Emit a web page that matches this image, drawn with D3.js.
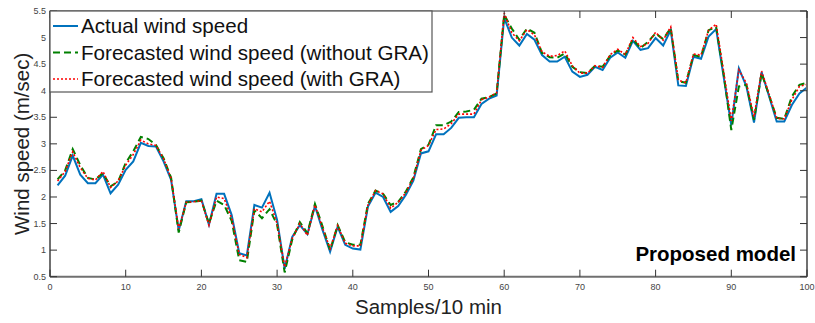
<!DOCTYPE html>
<html>
<head>
<meta charset="utf-8">
<script src="https://cdn.jsdelivr.net/npm/d3@7"></script>
<style>
  body { margin: 0; background: #fff; }
  svg text { font-family: "Liberation Sans", Arial, Helvetica, sans-serif; }
</style>
</head>
<body>
<svg id="chart" width="815" height="323"></svg>
<script>
// ---- data (samples 1..100) ----
const actual = [
  2.22, 2.40, 2.78, 2.42, 2.26, 2.26, 2.42, 2.07, 2.23, 2.51,
  2.67, 3.02, 2.96, 2.95, 2.67, 2.32, 1.37, 1.92, 1.92, 1.96,
  1.48, 2.06, 2.06, 1.66, 0.94, 0.90, 1.85, 1.80, 2.08, 1.57,
  0.65, 1.25, 1.47, 1.30, 1.83, 1.38, 0.97, 1.44, 1.10, 1.03,
  1.01, 1.82, 2.08, 2.00, 1.72, 1.83, 2.04, 2.31, 2.82, 2.86,
  3.18, 3.18, 3.30, 3.49, 3.50, 3.50, 3.75, 3.85, 3.91, 5.37,
  5.00, 4.85, 5.07, 4.96, 4.67, 4.55, 4.55, 4.64, 4.36, 4.26,
  4.30, 4.45, 4.39, 4.62, 4.72, 4.62, 4.94, 4.77, 4.80, 4.99,
  4.85, 5.14, 4.10, 4.09, 4.64, 4.60, 5.02, 5.16, 4.25, 3.35,
  4.42, 4.08, 3.40, 4.35, 3.89, 3.42, 3.42, 3.73, 3.95, 4.06
];
const withoutGRA = [
  2.33, 2.50, 2.90, 2.60, 2.36, 2.33, 2.45, 2.20, 2.29, 2.64,
  2.86, 3.13, 3.09, 2.98, 2.73, 2.36, 1.33, 1.90, 1.91, 1.93,
  1.50, 1.93, 1.85, 1.55, 0.81, 0.78, 1.75, 1.60, 1.77, 1.48,
  0.58, 1.20, 1.53, 1.32, 1.87, 1.45, 1.00, 1.47, 1.15, 1.10,
  1.10, 1.87, 2.12, 2.06, 1.85, 1.91, 2.10, 2.37, 2.90, 2.98,
  3.35, 3.35, 3.42, 3.60, 3.61, 3.64, 3.85, 3.88, 3.95, 5.43,
  5.17, 4.96, 5.17, 5.09, 4.71, 4.63, 4.62, 4.70, 4.45, 4.35,
  4.33, 4.47, 4.45, 4.66, 4.76, 4.68, 4.97, 4.80, 4.92, 5.08,
  4.97, 5.18, 4.18, 4.15, 4.67, 4.64, 5.14, 5.20, 4.30, 3.26,
  4.08, 4.11, 3.45, 4.33, 3.91, 3.49, 3.47, 3.89, 4.11, 4.15
];
const withGRA = [
  2.30, 2.48, 2.85, 2.55, 2.35, 2.32, 2.48, 2.18, 2.30, 2.60,
  2.80, 3.07, 3.00, 2.97, 2.72, 2.35, 1.40, 1.90, 1.91, 1.93,
  1.47, 2.00, 1.97, 1.60, 0.92, 0.86, 1.78, 1.72, 1.92, 1.50,
  0.68, 1.22, 1.50, 1.28, 1.85, 1.42, 1.03, 1.46, 1.13, 1.08,
  1.08, 1.85, 2.12, 2.06, 1.79, 1.90, 2.08, 2.35, 2.88, 2.97,
  3.27, 3.28, 3.38, 3.56, 3.56, 3.56, 3.83, 3.88, 3.96, 5.46,
  5.09, 4.94, 5.15, 5.05, 4.73, 4.65, 4.66, 4.75, 4.47, 4.33,
  4.33, 4.47, 4.44, 4.68, 4.78, 4.68, 5.00, 4.83, 4.89, 5.10,
  4.95, 5.20, 4.20, 4.15, 4.69, 4.67, 5.14, 5.25, 4.35, 3.43,
  4.39, 4.14, 3.51, 4.37, 3.93, 3.48, 3.47, 3.83, 4.08, 4.12
];
const xTicks = [0, 10, 20, 30, 40, 50, 60, 70, 80, 90, 100];
const yTicks = [0.5, 1, 1.5, 2, 2.5, 3, 3.5, 4, 4.5, 5, 5.5];
const legendLabels = ["Actual wind speed", "Forecasted wind speed (without GRA)", "Forecasted wind speed (with GRA)"];

// ---- layout ----
const padL = 50, padR = 807, padT = 11, padB = 276.7;
const svg = d3.select("#chart");
const x = d3.scaleLinear().domain([0, 100]).range([padL, padR]);
const y = d3.scaleLinear().domain([0.5, 5.5]).range([padB, padT]);

const series = [
  { vals: actual,     color: "#0072BD", width: 2,   dash: null },
  { vals: withoutGRA, color: "#008000", width: 2,   dash: "7,4" },
  { vals: withGRA,    color: "#FF0000", width: 1.6, dash: "2,2" }
];

// lines
const line = d3.line().x((d, i) => x(i + 1)).y((d) => y(d));
series.forEach((s) => {
  svg.append("path").attr("d", line(s.vals)).attr("fill", "none")
    .attr("stroke", s.color).attr("stroke-width", s.width)
    .attr("stroke-dasharray", s.dash);
});

// axes box + ticks (inward, mirrored)
const axCol = "#707070", tickLen = 7;
const g = svg.append("g");
g.append("line").attr("x1", padL).attr("x2", padR).attr("y1", padB).attr("y2", padB)
  .attr("stroke", axCol).attr("stroke-width", 2);
g.append("line").attr("x1", padL).attr("x2", padL).attr("y1", padT).attr("y2", padB)
  .attr("stroke", axCol).attr("stroke-width", 2);
g.append("line").attr("x1", padR).attr("x2", padR).attr("y1", padT).attr("y2", padB)
  .attr("stroke", axCol).attr("stroke-width", 2);
g.append("line").attr("x1", padL).attr("x2", padR).attr("y1", padT).attr("y2", padT)
  .attr("stroke", "#333").attr("stroke-width", 1.2);

xTicks.forEach((t) => {
  g.append("line").attr("x1", x(t)).attr("x2", x(t)).attr("y1", padB).attr("y2", padB - tickLen)
    .attr("stroke", "#333").attr("stroke-width", 1);
  g.append("line").attr("x1", x(t)).attr("x2", x(t)).attr("y1", padT).attr("y2", padT + tickLen)
    .attr("stroke", "#333").attr("stroke-width", 1);
  g.append("text").attr("x", x(t)).attr("y", 290).attr("text-anchor", "middle")
    .attr("fill", "#444").style("font-size", "9px").text(t);
});
yTicks.forEach((t) => {
  g.append("line").attr("x1", padL).attr("x2", padL + tickLen).attr("y1", y(t)).attr("y2", y(t))
    .attr("stroke", "#333").attr("stroke-width", 1);
  g.append("line").attr("x1", padR).attr("x2", padR - tickLen).attr("y1", y(t)).attr("y2", y(t))
    .attr("stroke", "#333").attr("stroke-width", 1);
  g.append("text").attr("x", 46).attr("y", y(t) + 3).attr("text-anchor", "end")
    .attr("fill", "#444").style("font-size", "9px").text(t);
});

// axis labels
svg.append("text").attr("x", (padL + padR) / 2).attr("y", 314).attr("text-anchor", "middle")
  .attr("fill", "#222").style("font-size", "20.5px").text("Samples/10 min");
svg.append("text").attr("transform", `translate(29,${(padT + padB) / 2}) rotate(-90)`)
  .attr("text-anchor", "middle").attr("fill", "#222").style("font-size", "20.5px")
  .text("Wind speed (m/sec)");

// legend
const lg = svg.append("g");
lg.append("rect").attr("x", padL).attr("y", padT).attr("width", 382).attr("height", 81)
  .attr("fill", "#fff").attr("stroke", "#555").attr("stroke-width", 1.2);
legendLabels.forEach((lab, i) => {
  const ly = 26 + i * 26.5;
  lg.append("line").attr("x1", 53).attr("x2", 78).attr("y1", ly).attr("y2", ly)
    .attr("stroke", series[i].color).attr("stroke-width", series[i].width)
    .attr("stroke-dasharray", series[i].dash);
  lg.append("text").attr("x", 81).attr("y", ly + 7).attr("fill", "#111")
    .style("font-size", "20.6px").text(lab);
});

// annotation
svg.append("text").attr("x", 796).attr("y", 261).attr("text-anchor", "end")
  .attr("fill", "#000").style("font-size", "20.5px").style("font-weight", "bold")
  .text("Proposed model");
</script>
</body>
</html>
